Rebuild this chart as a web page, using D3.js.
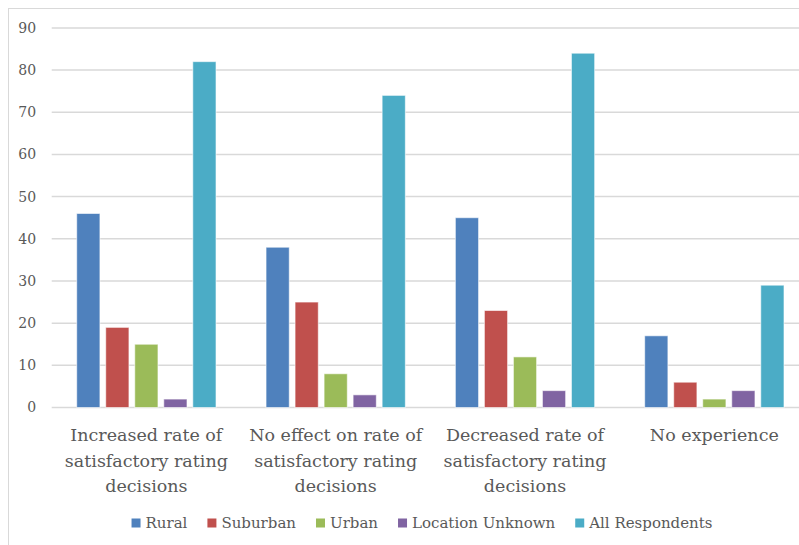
<!DOCTYPE html>
<html>
<head>
<meta charset="utf-8">
<script src="https://cdn.jsdelivr.net/npm/d3@7"></script>
<style>
  html, body { margin: 0; padding: 0; background: #fff; }
  svg { display: block; }
  text { font-family: "DejaVu Serif", "Liberation Serif", serif; fill: #595959; }
</style>
</head>
<body>
<svg width="799" height="545"></svg>
<script>
// categories (x axis) and their wrapped tick labels
var categories = ["Increased", "No effect", "Decreased", "No experience"];
var categoryLines = [
    ["Increased rate of", "satisfactory rating", "decisions"],
    ["No effect on rate of", "satisfactory rating", "decisions"],
    ["Decreased rate of", "satisfactory rating", "decisions"],
    ["No experience"]
];

var seriesNames = ["Rural", "Suburban", "Urban", "Location Unknown", "All Respondents"];
var seriesColors = ["#4F81BD", "#C0504D", "#9BBB59", "#8064A2", "#4BACC6"];

// one array per series, values in category order
var rural = [46, 38, 45, 17];
var suburban = [19, 25, 23, 6];
var urban = [15, 8, 12, 2];
var locationUnknown = [2, 3, 4, 4];
var allRespondents = [82, 74, 84, 29];

var yTicks = [0, 10, 20, 30, 40, 50, 60, 70, 80, 90];

var seriesValues = [rural, suburban, urban, locationUnknown, allRespondents];

var svg = d3.select("svg");

// chart frame (runs off the right / bottom edge like the reference)
svg.append("rect")
    .attr("x", 8.5).attr("y", 8.5)
    .attr("width", 830).attr("height", 560)
    .attr("fill", "none")
    .attr("stroke", "#d9d9d9")
    .attr("stroke-width", 1);

var plot = { left: 51.7, right: 809, top: 27.9, bottom: 407.5 };

var x0 = d3.scaleBand()
    .domain(categories)
    .range([plot.left, plot.right]);

var clusterW = 139.3;
var x1 = d3.scaleBand()
    .domain(seriesNames)
    .range([(x0.bandwidth() - clusterW) / 2, (x0.bandwidth() + clusterW) / 2])
    .paddingInner(0.2);

var y = d3.scaleLinear()
    .domain([0, 90])
    .range([plot.bottom, plot.top]);

// gridlines
svg.append("g")
    .selectAll("line")
    .data(yTicks)
    .enter().append("line")
    .attr("x1", plot.left)
    .attr("x2", plot.right)
    .attr("y1", function (d) { return y(d); })
    .attr("y2", function (d) { return y(d); })
    .attr("stroke", "#d9d9d9")
    .attr("stroke-width", 1.5);

// y axis labels
var yAxis = svg.append("g")
    .attr("transform", "translate(" + plot.left + ",0)")
    .call(d3.axisLeft(y).tickValues(yTicks).tickSize(0).tickPadding(15.5));
yAxis.select(".domain").remove();
yAxis.selectAll("text")
    .attr("font-family", "DejaVu Serif")
    .attr("font-size", 14)
    .attr("fill", "#595959");

// bars
var groups = svg.append("g")
    .selectAll("g")
    .data(categories)
    .enter().append("g")
    .attr("transform", function (d) { return "translate(" + x0(d) + ",0)"; });

groups.selectAll("rect")
    .data(function (c, ci) {
        return seriesNames.map(function (s, si) {
            return { series: s, value: seriesValues[si][ci], color: seriesColors[si] };
        });
    })
    .enter().append("rect")
    .attr("x", function (d) { return x1(d.series); })
    .attr("y", function (d) { return y(d.value); })
    .attr("width", x1.bandwidth())
    .attr("height", function (d) { return y(0) - y(d.value); })
    .attr("fill", function (d) { return d.color; })
    .attr("stroke", "#ffffff")
    .attr("stroke-opacity", 0.6)
    .attr("stroke-width", 1);

// category labels
var catLabels = svg.append("g")
    .selectAll("text")
    .data(categories)
    .enter().append("text")
    .attr("text-anchor", "middle")
    .attr("font-size", 17.5)
    .attr("x", function (d) { return x0(d) + x0.bandwidth() / 2; })
    .attr("y", 441);

catLabels.each(function (d, i) {
    var t = d3.select(this);
    categoryLines[i].forEach(function (line, li) {
        t.append("tspan")
            .attr("x", x0(d) + x0.bandwidth() / 2)
            .attr("y", 441 + li * 25.5)
            .text(line);
    });
});

// legend
var legend = svg.append("g");
var items = legend.selectAll("g")
    .data(seriesNames)
    .enter().append("g");

items.append("rect")
    .attr("width", 9).attr("height", 9)
    .attr("y", 518.5)
    .attr("fill", function (d, i) { return seriesColors[i]; });

items.append("text")
    .attr("font-size", 15)
    .attr("y", 528)
    .attr("x", 14)
    .text(function (d) { return d; });

var widths = [];
items.selectAll("text").each(function () { widths.push(this.getComputedTextLength()); });
var gap = 20;
var total = d3.sum(widths, function (w) { return 14 + w; }) + gap * (widths.length - 1);
var lx = 422 - total / 2;
items.attr("transform", function (d, i) {
    var pos = lx;
    lx += 14 + widths[i] + gap;
    return "translate(" + pos + ",0)";
});
</script>
</body>
</html>
